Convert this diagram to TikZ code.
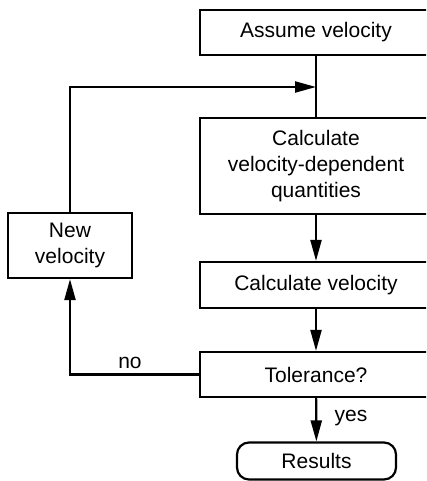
\documentclass[tikz,border=0pt]{standalone}
\usepackage{fontspec}
\setmainfont{Liberation Sans}
\usetikzlibrary{arrows.meta}
\begin{document}
\begin{tikzpicture}[x=1pt,y=-1pt,
  box/.style={draw, line width=2.2pt, inner sep=0pt, align=center,
    font=\fontsize{21}{26}\selectfont},
  conn/.style={line width=2.2pt, -{Triangle[length=21pt,width=11pt]}},
  plain/.style={line width=2.2pt},
  lbl/.style={font=\fontsize{21}{26}\selectfont, inner sep=0pt}]
\useasboundingbox (0,0) rectangle (426,481);
\clip (0,0) rectangle (426,481);
\node[box, minimum width=232pt, minimum height=45pt] (assume) at (316,32.5) {Assume velocity};
\node[box, minimum width=232pt, minimum height=96pt] (calcdep) at (316,166) {Calculate\\velocity-dependent\\quantities};
\node[box, minimum width=232pt, minimum height=46pt] (calcvel) at (316,285) {Calculate velocity};
\node[box, minimum width=232pt, minimum height=45pt] (tol) at (316,374.5) {Tolerance?};
\node[box, minimum width=159pt, minimum height=37pt, rounded corners=12pt] (results) at (316.5,461) {Results};
\node[box, minimum width=124pt, minimum height=65pt] (newvel) at (70,245.5) {New\\velocity};
\coordinate (j) at (316,87);
\draw[plain] (assume) -- (calcdep);
\draw[conn] (newvel.north) |- (j);
\draw[conn] (calcdep) -- (calcvel);
\draw[conn] (calcvel) -- (tol);
\draw[conn] (tol) -- (results);
\draw[conn] (tol.west) -| (newvel.south);
\node[lbl] (no) at (130,363) {no};
\node[lbl] (yes) at (351,418) {yes};
\end{tikzpicture}
\end{document}
